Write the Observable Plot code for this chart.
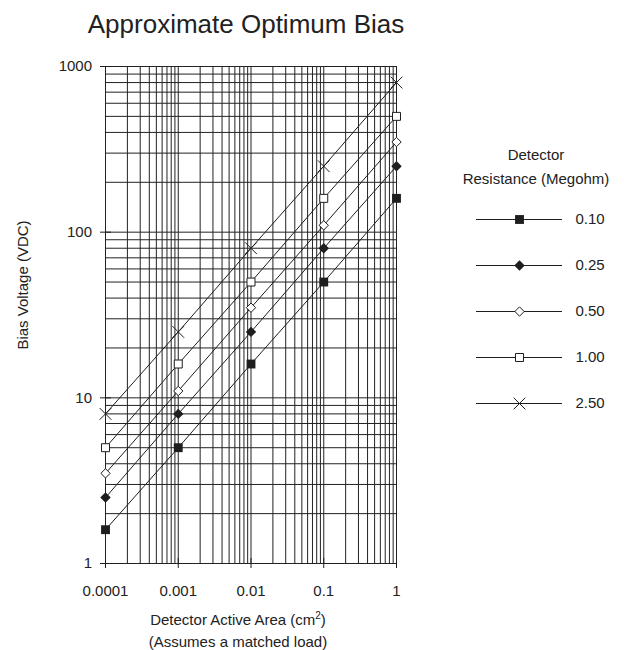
<!DOCTYPE html>
<html><head><meta charset="utf-8">
<script src="https://cdn.jsdelivr.net/npm/d3@7"></script>
<script src="https://cdn.jsdelivr.net/npm/@observablehq/plot@0.6"></script>
<style>
body{margin:0;background:#fff;font-family:"Liberation Sans",Arial,sans-serif;color:#222}
#wrap{position:relative;width:624px;height:650px;overflow:hidden}
.abs{position:absolute;white-space:nowrap}
#main,#legend{position:absolute}
#main{left:0;top:0}
#legend{left:460px;top:195px}
</style></head><body>
<div id="wrap">
  <div id="main"></div>
  <div id="legend"></div>
  <div class="abs" style="left:0;width:492px;top:11px;text-align:center;font-size:26px;line-height:26px">Approximate Optimum Bias</div>
  <div class="abs" style="left:22px;top:285px;font-size:15px;line-height:15px;transform:translate(-50%,-50%) rotate(-90deg)">Bias Voltage (VDC)</div>
  <div class="abs" style="left:138px;width:200px;top:610px;text-align:center;font-size:15px;line-height:20px">Detector Active Area (cm<span style="font-size:10px;position:relative;top:-6px">2</span>)<br>(Assumes a matched load)</div>
  <div class="abs" style="left:456px;width:160px;top:143px;text-align:center;font-size:15px;line-height:24px">Detector<br>Resistance (Megohm)</div>
</div>
<script>
// ---- data ----
const areas = [0.0001, 0.001, 0.01, 0.1, 1];
const resistances = ["0.10", "0.25", "0.50", "1.00", "2.50"];
const bias010 = [1.6, 5, 16, 50, 160];
const bias025 = [2.5, 8, 25, 80, 250];
const bias050 = [3.5, 11, 35, 110, 350];
const bias100 = [5, 16, 50, 160, 500];
const bias250 = [8, 25, 80, 250, 800];
const xTicks = [0.0001, 0.001, 0.01, 0.1, 1];
const xTickLabels = ["0.0001", "0.001", "0.01", "0.1", "1"];
const yTicks = [1, 10, 100, 1000];
const yTickLabels = ["1", "10", "100", "1000"];
const gridMultipliers = [1, 2, 3, 4, 5, 6, 7, 8, 9];

// ---- build tables ----
const seriesValues = [bias010, bias025, bias050, bias100, bias250];
const rows = [];
resistances.forEach((r, s) => areas.forEach((a, i) => rows.push({series: r, area: a, bias: seriesValues[s][i]})));

const xGrid = [];
xTicks.slice(0, -1).forEach(d => gridMultipliers.forEach(m => xGrid.push(d * m)));
xGrid.push(1);
const yGrid = [];
yTicks.slice(0, -1).forEach(d => gridMultipliers.forEach(m => yGrid.push(d * m)));
yGrid.push(1000);

const ink = "#1e1e1e";
const styles = {
  "0.10": {symbol: "square", fill: ink, stroke: "none", r: 5.0},
  "0.25": {symbol: "diamond2", fill: ink, stroke: "none", r: 4.7},
  "0.50": {symbol: "diamond2", fill: "white", stroke: ink, r: 4.2},
  "1.00": {symbol: "square", fill: "white", stroke: ink, r: 4.5},
  "2.50": {symbol: "times", fill: "none", stroke: ink, r: 5.4}
};

const fontStyle = {fontFamily: "'Liberation Sans', Arial, sans-serif", fontSize: "15px", color: "#222", background: "transparent", overflow: "visible"};

const dotMarks = resistances.map(r => Plot.dot(rows.filter(d => d.series === r), {
  x: "area", y: "bias", symbol: () => styles[r].symbol, r: styles[r].r,
  fill: styles[r].fill, stroke: styles[r].stroke, strokeWidth: 1
}));

const main = Plot.plot({
  width: 624, height: 650,
  marginLeft: 105, marginRight: 228, marginTop: 66, marginBottom: 87,
  style: fontStyle,
  x: {type: "log", domain: [0.0001, 1], label: null},
  y: {type: "log", domain: [1, 1000], label: null},
  symbol: {type: "identity"},
  marks: [
    Plot.ruleX(xGrid, {x: d => d, stroke: "#222", strokeWidth: 1}),
    Plot.ruleY(yGrid, {y: d => d, stroke: "#222", strokeWidth: 1}),
    Plot.axisX(xTicks, {tickSize: 10, dy: -5, tickPadding: 17, stroke: ink, fill: "#222", fontSize: 15, label: null,
      tickFormat: d => xTickLabels[xTicks.indexOf(d)]}),
    Plot.axisY(yTicks, {tickSize: 11, dx: 6, tickPadding: 8.5, stroke: ink, fill: "#222", fontSize: 15, label: null,
      tickFormat: d => yTickLabels[yTicks.indexOf(d)]}),
    Plot.line(rows, {x: "area", y: "bias", z: "series", stroke: ink, strokeWidth: 1}),
    ...dotMarks
  ]
});
document.getElementById("main").appendChild(main);

const legendDots = resistances.map(r => Plot.dot([r], {
  x: () => 1, y: d => d, symbol: () => styles[r].symbol, r: styles[r].r,
  fill: styles[r].fill, stroke: styles[r].stroke, strokeWidth: 1
}));
const legend = Plot.plot({
  width: 164, height: 230,
  marginLeft: 16, marginRight: 62, marginTop: 0, marginBottom: 0,
  style: fontStyle,
  x: {domain: [0, 2], axis: null},
  y: {type: "point", domain: resistances, range: [23.3, 208.3], padding: 0, axis: null},
  symbol: {type: "identity"},
  marks: [
    Plot.ruleY(resistances, {y: d => d, x1: () => 0, x2: () => 2, stroke: ink, strokeWidth: 1}),
    ...legendDots,
    Plot.text(resistances, {x: () => 2, y: d => d, text: d => d, dx: 13, textAnchor: "start", fontSize: 15, fill: "#222"})
  ]
});
document.getElementById("legend").appendChild(legend);
</script>
</body></html>
